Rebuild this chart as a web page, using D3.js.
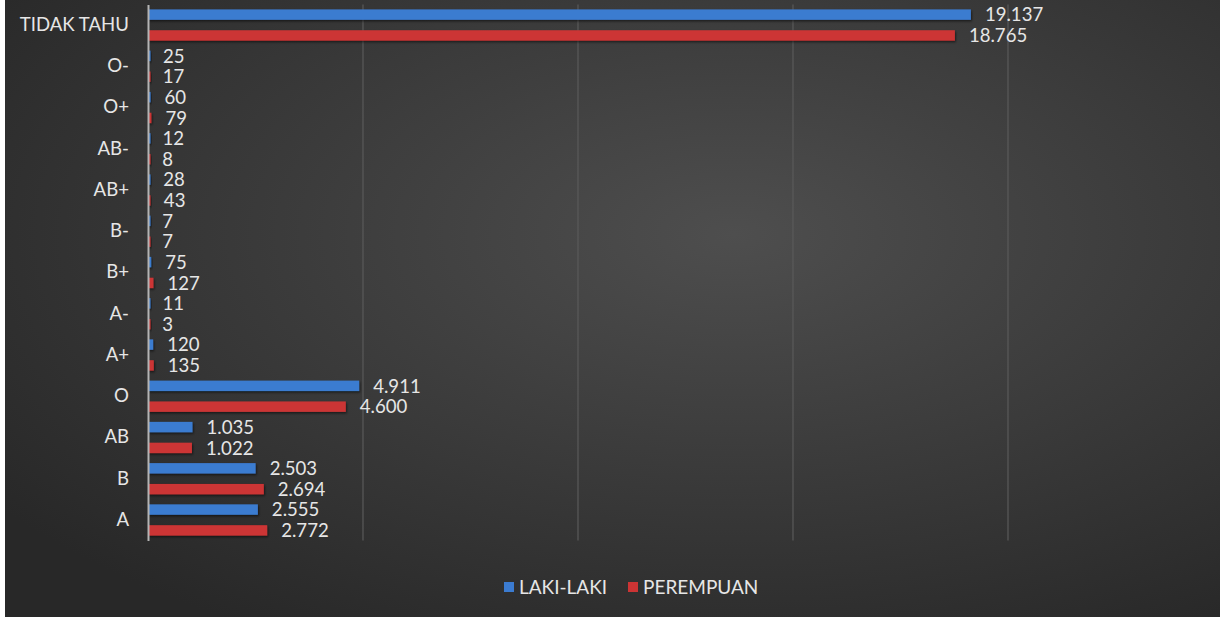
<!DOCTYPE html>
<html>
<head>
<meta charset="utf-8">
<script src="https://cdn.jsdelivr.net/npm/d3@7"></script>
<style>
  body { margin: 0; background: #ffffff; }
  svg { display: block; }
  text { font-family: Lato, "Open Sans", sans-serif; }
</style>
</head>
<body>
<div id="chart"></div>
<script>
// categories top to bottom
const categories = ["TIDAK TAHU", "O-", "O+", "AB-", "AB+", "B-", "B+", "A-", "A+", "O", "AB", "B", "A"];
const lakiLaki  = [19137, 25, 60, 12, 28, 7, 75, 11, 120, 4911, 1035, 2503, 2555];
const perempuan = [18765, 17, 79, 8, 43, 7, 127, 3, 135, 4600, 1022, 2694, 2772];
const seriesNames = ["LAKI-LAKI", "PEREMPUAN"];
const seriesColors = ["#3b7bd0", "#cc3434"];
const gridTicks = [0, 5000, 10000, 15000, 20000];

const W = 1220, H = 619;
const plot = { left: 148, right: 1008, top: 4.4, bottom: 540.6 };
const textColor = "#e6e6e6";

const fmt = d3.formatLocale({ decimal: ",", thousands: ".", grouping: [3], currency: ["", ""] }).format(",d");

const data = categories.map((c, i) => ({ cat: c, vals: [lakiLaki[i], perempuan[i]] }));

const svg = d3.select("#chart").append("svg")
    .attr("width", W)
    .attr("height", H);

const defs = svg.append("defs");
const grad = defs.append("radialGradient")
    .attr("id", "bg")
    .attr("cx", "60%").attr("cy", "38%").attr("r", "75%");
grad.append("stop").attr("offset", "0%").attr("stop-color", "#4e4e4e");
grad.append("stop").attr("offset", "100%").attr("stop-color", "#282828");

const shadow = defs.append("filter").attr("id", "shadow")
    .attr("x", "-50%").attr("y", "-50%").attr("width", "200%").attr("height", "200%");
shadow.append("feDropShadow")
    .attr("dx", 1).attr("dy", 1.5).attr("stdDeviation", 1.2)
    .attr("flood-color", "#000").attr("flood-opacity", 0.55);

svg.append("rect")
    .attr("x", 5).attr("y", 0)
    .attr("width", W - 5).attr("height", 617)
    .attr("fill", "url(#bg)");

const x = d3.scaleLinear()
    .domain([0, 20000])
    .range([plot.left, plot.right]);

const y = d3.scaleBand()
    .domain(categories)
    .range([plot.top, plot.bottom]);

const ySub = d3.scaleBand()
    .domain([0, 1])
    .range([0, y.bandwidth()])
    .paddingInner(0.5)
    .paddingOuter(0.24);

// gridlines
svg.append("g")
    .selectAll("line")
    .data(gridTicks.slice(1))
    .join("line")
    .attr("x1", d => x(d)).attr("x2", d => x(d))
    .attr("y1", plot.top).attr("y2", plot.bottom)
    .attr("stroke", "#5a5a5a")
    .attr("stroke-width", 1.2);

// bars
const groups = svg.append("g")
    .selectAll("g")
    .data(data)
    .join("g")
    .attr("transform", d => `translate(0,${y(d.cat)})`);

groups.selectAll("rect")
    .data(d => d.vals)
    .join("rect")
    .attr("x", x(0))
    .attr("y", (v, i) => ySub(i))
    .attr("width", v => Math.max(x(v) - x(0), 2.5))
    .attr("height", ySub.bandwidth())
    .attr("fill", (v, i) => seriesColors[i])
    .attr("filter", "url(#shadow)");

groups.selectAll("text")
    .data(d => d.vals)
    .join("text")
    .attr("x", v => x(v) + 14)
    .attr("y", (v, i) => ySub(i) + ySub.bandwidth() / 2)
    .attr("dy", "0.36em")
    .attr("fill", textColor)
    .attr("font-size", 18.6)
    .text(v => fmt(v));

// category axis
const yAxis = svg.append("g")
    .attr("transform", `translate(${plot.left},0)`)
    .call(d3.axisLeft(y).tickSize(0).tickPadding(19));
yAxis.select(".domain")
    .attr("stroke", "#b4b4b4")
    .attr("stroke-width", 2);
yAxis.selectAll("text")
    .attr("fill", textColor)
    .attr("font-size", 18.6)
    .style("font-family", "Lato, 'Open Sans', sans-serif");

// legend
const legend = svg.append("g").attr("transform", "translate(0,587)");
const legendX = [504, 628];
seriesNames.forEach((name, i) => {
    legend.append("rect")
        .attr("x", legendX[i]).attr("y", -5)
        .attr("width", 10).attr("height", 10)
        .attr("fill", seriesColors[i]);
    legend.append("text")
        .attr("x", legendX[i] + 15)
        .attr("y", 0)
        .attr("dy", "0.36em")
        .attr("fill", textColor)
        .attr("font-size", 19)
        .text(name);
});
</script>
</body>
</html>
